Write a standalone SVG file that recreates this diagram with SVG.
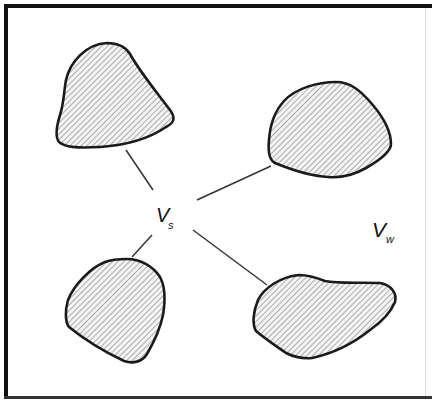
<svg xmlns="http://www.w3.org/2000/svg" width="432" height="400" viewBox="0 0 432 400">
<style>
.blob{fill:url(#hatch);stroke:#1a1a1a;stroke-width:2.6;stroke-linejoin:round}
.conn{stroke:#333;stroke-width:1.5;fill:none}
.lbl{font-family:"Liberation Sans",Arial,sans-serif;font-style:italic;fill:#111}
</style>
<defs>
<pattern id="hatch" patternUnits="userSpaceOnUse" width="4" height="4" patternTransform="rotate(45)">
<rect width="4" height="4" fill="#f4f4f4"/>
<line x1="0" y1="0" x2="0" y2="4" stroke="#9a9a9a" stroke-width="1.6"/>
</pattern>
</defs>
<rect width="432" height="400" fill="#fff"/>
<g id="frame">
<line x1="6" y1="4" x2="6" y2="399" stroke="#111" stroke-width="4"/>
<line x1="4" y1="6" x2="432" y2="6" stroke="#111" stroke-width="4"/>
<line x1="4" y1="397.5" x2="432" y2="397.5" stroke="#333" stroke-width="3"/>
<line x1="425.5" y1="8" x2="425.5" y2="396" stroke="#ddd" stroke-width="1"/>
</g>
<g id="connectors">
<line class="conn" x1="126" y1="150" x2="153" y2="190"/>
<line class="conn" x1="197" y1="200" x2="271" y2="166"/>
<line class="conn" x1="152" y1="235" x2="132" y2="257"/>
<line class="conn" x1="193" y1="230" x2="267" y2="285"/>
</g>
<g id="blob-tl">
<path class="blob" d="M107,43 C117,43 125,46 130,54 C140,72 155,90 170,110 C176,118 174,123 166,127 C150,138 130,145 100,147 C80,148 66,148 59,142 C55,137 56,128 60,115 C64,103 64,90 66,80 C70,62 86,44 107,43 Z"/>
</g>
<g id="blob-tr">
<path class="blob" d="M336,82 C350,82 360,90 372,104 C384,118 391,132 391,144 C391,152 380,160 366,168 C352,176 340,178 328,177 C310,176 292,170 275,163 C269,160 268,150 269,140 C270,125 274,112 284,101 C296,88 318,82 336,82 Z"/>
</g>
<g id="blob-bl">
<path class="blob" d="M127,259 C140,259 153,266 160,277 C166,288 165,303 163,315 C160,330 154,342 147,354 C142,362 133,364 124,361 C105,352 85,340 69,327 C65,322 65,310 68,300 C74,285 90,268 105,262 C113,259 120,259 127,259 Z"/>
</g>
<g id="blob-br">
<path class="blob" d="M299,275 C308,275 315,277 325,281 C340,284 360,282 380,283 C392,285 397,294 395,302 C390,314 380,323 370,330 C355,342 335,353 312,358 C302,359 294,357 286,353 C276,346 264,338 256,331 C252,324 253,312 258,300 C264,288 280,277 299,275 Z"/>
</g>
<g id="label-vs">
<text class="lbl" x="156" y="222" font-size="20">V</text>
<text class="lbl" x="168" y="229" font-size="11">s</text>
</g>
<g id="label-vw">
<text class="lbl" x="372" y="237" font-size="21">V</text>
<text class="lbl" x="386" y="243" font-size="11">w</text>
</g>
</svg>
